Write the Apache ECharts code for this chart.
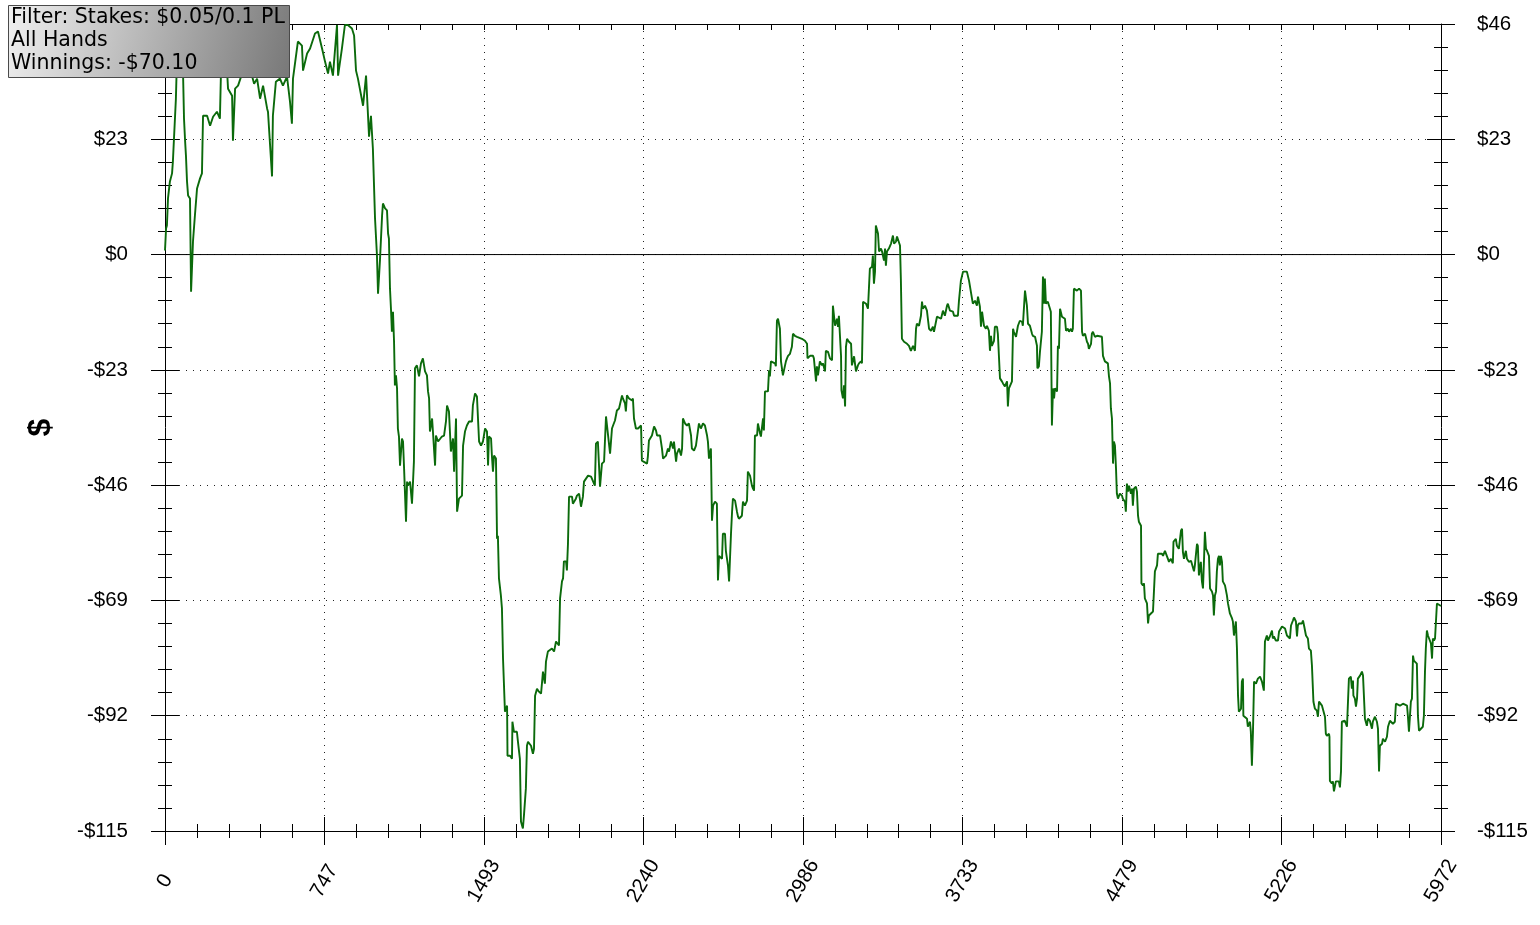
<!DOCTYPE html>
<html>
<head>
<meta charset="utf-8">
<script src="https://cdn.jsdelivr.net/npm/echarts@6/dist/echarts.min.js"></script>
<style>
html,body{margin:0;padding:0;background:#fff;}
#chart{width:1540px;height:925px;}
</style>
</head>
<body>
<div id="chart"></div>
<script>
// Hands played (x) and cumulative winnings in $ (y)
const hands = [0,5,9,14,23,33,37,42,51,56,66,75,84,89,94,98,103,108,117,122,131,140,150,164,173,178,197,211,225,243,257,262,276,290,295,314,318,328,342,356,374,398,417,431,445,459,478,482,501,505,519,538,552,571,585,594,599,622,641,646,665,679,702,716,735,749,763,772,786,805,810,828,842,856,875,885,894,903,927,941,955,964,973,983,992,997,1006,1016,1020,1030,1039,1044,1048,1053,1058,1062,1067,1072,1076,1081,1086,1090,1095,1100,1109,1114,1119,1128,1133,1137,1147,1156,1161,1165,1170,1179,1189,1198,1207,1217,1226,1231,1236,1240,1250,1254,1264,1268,1278,1296,1306,1315,1320,1329,1338,1348,1353,1362,1367,1376,1385,1390,1395,1404,1413,1423,1437,1441,1451,1460,1470,1479,1488,1498,1507,1512,1516,1526,1530,1535,1540,1549,1554,1558,1563,1572,1577,1582,1587,1591,1601,1603,1615,1624,1626,1633,1647,1652,1661,1666,1675,1680,1689,1694,1699,1713,1722,1727,1732,1741,1750,1760,1769,1778,1783,1792,1811,1821,1830,1844,1849,1858,1863,1867,1877,1881,1886,1891,1905,1909,1923,1928,1938,1947,1956,1961,1970,1980,1994,2003,2012,2017,2026,2036,2045,2055,2064,2073,2083,2092,2097,2106,2115,2125,2139,2143,2153,2157,2162,2172,2186,2190,2195,2204,2214,2228,2232,2237,2256,2260,2265,2279,2289,2298,2303,2317,2326,2331,2345,2354,2359,2368,2378,2382,2392,2396,2406,2415,2420,2424,2434,2443,2452,2462,2466,2476,2485,2494,2499,2508,2518,2527,2537,2541,2546,2555,2560,2565,2574,2583,2588,2593,2607,2611,2621,2625,2630,2635,2640,2649,2654,2658,2668,2677,2682,2686,2700,2705,2714,2724,2728,2738,2747,2752,2757,2761,2771,2775,2785,2789,2799,2803,2808,2817,2822,2827,2831,2836,2845,2855,2859,2864,2869,2878,2883,2892,2897,2906,2911,2916,2925,2934,2939,2948,2958,2967,2981,2995,3005,3007,3019,3033,3037,3047,3051,3056,3065,3075,3079,3089,3093,3103,3112,3122,3126,3131,3136,3145,3150,3154,3159,3164,3166,3173,3178,3183,3187,3192,3201,3211,3215,3220,3225,3234,3243,3248,3257,3262,3267,3281,3290,3299,3309,3313,3318,3323,3327,3337,3342,3351,3356,3365,3370,3374,3379,3388,3398,3407,3412,3421,3426,3435,3440,3444,3449,3459,3473,3482,3491,3501,3505,3510,3515,3519,3529,3538,3543,3547,3557,3566,3571,3576,3585,3594,3599,3608,3613,3622,3632,3641,3650,3660,3664,3674,3688,3693,3702,3711,3716,3725,3735,3744,3753,3763,3772,3777,3781,3791,3800,3805,3814,3819,3824,3833,3842,3847,3856,3861,3866,3870,3880,3884,3894,3898,3903,3908,3917,3922,3931,3941,3945,3950,3959,3964,3969,3973,3983,3987,3992,4001,4011,4015,4020,4025,4034,4039,4048,4058,4062,4072,4081,4083,4090,4095,4104,4109,4114,4118,4123,4132,4137,4146,4151,4156,4161,4165,4175,4179,4184,4189,4198,4203,4212,4217,4226,4231,4240,4245,4249,4254,4268,4278,4287,4292,4296,4306,4315,4320,4324,4334,4338,4343,4352,4362,4371,4385,4390,4395,4399,4413,4418,4423,4427,4432,4437,4441,4446,4451,4455,4460,4469,4479,4483,4493,4497,4502,4507,4512,4521,4526,4530,4535,4544,4549,4554,4558,4568,4570,4577,4582,4586,4596,4601,4605,4614,4624,4629,4633,4643,4647,4666,4671,4680,4689,4694,4699,4708,4717,4720,4731,4736,4745,4755,4760,4764,4769,4778,4783,4792,4802,4811,4816,4820,4830,4834,4839,4848,4853,4858,4863,4867,4872,4877,4886,4891,4900,4905,4909,4914,4919,4923,4928,4933,4937,4942,4947,4951,4961,4970,4975,4984,4994,4998,5003,5012,5017,5022,5026,5036,5040,5045,5047,5054,5064,5068,5078,5082,5087,5092,5097,5106,5115,5125,5134,5139,5143,5148,5157,5162,5171,5181,5185,5190,5199,5209,5214,5228,5242,5251,5256,5265,5270,5279,5284,5293,5298,5302,5307,5321,5326,5331,5340,5349,5354,5363,5368,5373,5375,5382,5391,5396,5401,5410,5415,5424,5429,5433,5438,5448,5450,5452,5461,5466,5471,5480,5485,5494,5499,5504,5508,5513,5522,5532,5536,5541,5550,5555,5560,5562,5569,5574,5579,5583,5593,5602,5607,5616,5625,5630,5639,5649,5653,5663,5672,5677,5682,5686,5696,5700,5710,5719,5724,5733,5742,5747,5756,5761,5770,5780,5794,5803,5813,5817,5822,5831,5836,5841,5845,5859,5864,5869,5878,5887,5892,5897,5901,5906,5911,5925,5930,5934,5939,5944,5953,5972];
const winnings = [0.8,5.2,5.8,11.2,14.6,16.2,18.6,23.1,31.1,39.1,43.1,41.1,37.1,27.1,22.7,19.8,14.6,11.8,11.2,-7.4,2.6,7.8,13.2,15.2,16.2,27.7,27.7,25.7,27.5,28.5,27.1,36.5,40.1,37.1,33.1,31.7,22.7,33.1,33.7,35.5,38.1,37.1,34.1,35.1,31.1,33.7,29.1,28.5,15.6,27.7,34.5,35.1,33.7,35.5,30.5,26.1,35.1,42.5,41.7,36.7,40.1,41.1,44.1,44.5,41.1,38.5,36.1,38.5,35.7,45.8,35.7,41.1,45.8,45.8,45.1,43.7,36.7,35.1,29.7,35.7,23.5,27.7,21.1,7.2,-0.2,-7.8,-1.2,7.8,10.2,9.2,8.8,4.2,3.2,-6.8,-11.2,-15.4,-11.4,-17.4,-26.1,-24.1,-26.7,-34.7,-36.3,-42.1,-36.7,-37.3,-42.7,-53.3,-45.3,-46.1,-45.3,-49.7,-45.1,-41.3,-22.7,-22.1,-24.3,-21.7,-20.7,-23.3,-24.1,-27.3,-28.7,-35.3,-32.7,-35.3,-42.1,-36.1,-37.3,-36.3,-36.1,-33.3,-30.1,-31.3,-39.3,-36.7,-43.3,-32.7,-51.3,-48.7,-48.7,-48.1,-38.1,-35.3,-34.1,-33.3,-33.3,-30.1,-27.7,-28.3,-37.3,-38.1,-37.3,-34.7,-35.3,-42.1,-36.3,-36.7,-40.1,-43.3,-40.1,-40.7,-56.7,-56.1,-64.6,-68.0,-70.6,-80.6,-80.6,-91.2,-90.0,-100.0,-100.0,-100.6,-93.2,-95.2,-95.2,-97.2,-100.6,-113.1,-114.5,-111.9,-106.5,-98.0,-97.2,-98.0,-99.6,-98.6,-88.0,-86.6,-87.2,-87.6,-83.2,-85.6,-81.2,-79.2,-78.6,-79.2,-77.2,-78.0,-68.6,-65.2,-64.6,-61.2,-61.2,-63.0,-57.7,-48.3,-48.3,-49.7,-48.7,-48.1,-47.7,-50.3,-48.3,-45.3,-45.1,-44.1,-44.3,-44.1,-46.1,-37.7,-37.3,-46.3,-41.7,-41.3,-32.3,-32.3,-39.7,-34.7,-34.1,-33.1,-31.1,-30.7,-28.1,-28.7,-29.7,-31.3,-28.1,-28.7,-29.1,-28.7,-32.7,-34.7,-34.7,-34.1,-41.1,-41.3,-41.7,-40.3,-37.1,-36.1,-34.3,-35.1,-36.1,-36.1,-38.7,-40.7,-40.1,-38.7,-39.3,-37.3,-38.7,-37.3,-41.3,-39.7,-38.7,-40.1,-38.7,-32.7,-33.7,-34.1,-33.7,-36.1,-38.7,-39.1,-38.1,-38.1,-33.7,-34.7,-33.7,-34.1,-36.1,-37.3,-40.7,-38.7,-53.1,-50.1,-49.3,-49.7,-65.0,-60.1,-60.7,-55.7,-55.7,-59.1,-59.3,-62.1,-65.2,-55.7,-51.3,-48.7,-49.1,-51.3,-52.3,-52.7,-52.1,-49.3,-50.1,-49.1,-43.3,-44.1,-46.1,-46.7,-47.1,-36.1,-36.1,-33.7,-35.7,-36.3,-32.7,-35.1,-27.3,-27.1,-27.3,-23.1,-24.3,-21.3,-21.3,-21.7,-22.3,-13.2,-12.8,-14.8,-21.3,-24.1,-23.1,-21.3,-20.7,-20.2,-19.8,-18.4,-15.8,-16.2,-16.4,-16.4,-16.8,-17.2,-17.8,-20.7,-20.2,-20.2,-20.7,-25.3,-22.3,-24.1,-21.3,-22.1,-21.7,-23.3,-19.2,-19.4,-20.7,-21.1,-10.2,-10.4,-14.2,-12.8,-14.4,-12.2,-12.4,-20.2,-27.1,-28.7,-26.1,-30.3,-18.4,-16.8,-17.4,-17.8,-22.1,-22.3,-20.3,-23.3,-22.1,-21.7,-21.3,-21.7,-9.4,-9.8,-10.8,-2.8,-2.4,-0.2,-5.8,-3.4,5.8,4.2,0.6,1.2,0.6,-1.2,1.2,-2.2,0.6,1.2,2.2,3.8,2.2,2.6,3.6,3.8,1.8,-4.8,-16.8,-17.4,-17.8,-18.2,-19.2,-18.2,-18.4,-19.2,-14.8,-13.8,-14.2,-12.2,-9.4,-10.8,-10.2,-11.2,-11.4,-14.8,-15.2,-14.4,-15.4,-15.2,-12.4,-12.2,-12.8,-11.2,-12.2,-10.2,-9.8,-11.2,-11.4,-12.2,-12.4,-12.2,-9.2,-5.2,-3.4,-3.2,-3.4,-5.2,-5.2,-8.8,-9.8,-9.2,-10.2,-8.4,-10.4,-14.4,-11.4,-14.2,-14.8,-14.2,-15.2,-19.2,-16.2,-18.2,-17.2,-14.4,-14.4,-15.8,-15.8,-24.7,-25.3,-25.7,-26.3,-25.3,-30.3,-26.7,-26.7,-25.3,-14.8,-15.4,-16.4,-16.2,-14.2,-13.2,-13.4,-14.2,-14.4,-7.2,-10.2,-13.8,-14.2,-15.8,-16.2,-16.4,-18.2,-22.7,-22.3,-19.4,-15.4,-4.4,-9.8,-4.8,-9.8,-9.4,-9.2,-11.4,-34.1,-26.7,-28.7,-26.7,-27.3,-18.2,-18.8,-10.8,-12.4,-12.4,-12.8,-15.2,-14.8,-15.4,-14.8,-15.4,-14.8,-6.8,-7.2,-6.8,-7.2,-15.4,-16.2,-15.8,-17.4,-17.8,-18.8,-17.8,-15.8,-15.4,-16.4,-16.2,-16.4,-16.4,-20.2,-20.3,-21.3,-21.7,-24.3,-25.7,-30.7,-32.7,-41.7,-37.3,-38.1,-42.7,-47.7,-48.7,-47.7,-48.1,-48.7,-49.3,-51.3,-45.7,-47.3,-46.1,-47.7,-46.7,-50.1,-46.7,-46.3,-47.3,-52.1,-53.3,-54.1,-65.6,-66.0,-65.6,-68.6,-69.6,-73.6,-72.0,-72.0,-71.2,-71.0,-63.2,-62.0,-59.7,-59.7,-60.1,-59.1,-59.3,-60.7,-61.3,-60.7,-61.6,-57.3,-56.7,-58.1,-58.7,-55.1,-54.7,-59.3,-60.7,-59.1,-60.7,-61.3,-61.1,-61.3,-63.2,-62.0,-57.7,-58.1,-64.0,-61.3,-65.2,-66.6,-60.7,-55.3,-58.7,-59.1,-60.1,-66.6,-67.2,-68.0,-72.0,-68.0,-67.2,-63.2,-60.7,-60.1,-62.0,-60.1,-61.3,-65.2,-66.0,-68.0,-69.6,-71.6,-72.6,-73.2,-76.0,-73.2,-78.6,-88.0,-91.2,-90.6,-85.2,-84.6,-92.0,-92.2,-92.6,-94.2,-93.2,-95.2,-102.0,-95.2,-85.2,-85.6,-84.6,-84.2,-85.2,-86.2,-87.0,-77.2,-76.0,-77.0,-76.2,-75.0,-76.6,-76.2,-77.0,-77.0,-75.2,-74.2,-74.6,-76.0,-76.2,-76.6,-74.0,-73.0,-72.4,-73.2,-76.2,-74.0,-73.6,-73.6,-73.0,-74.0,-76.0,-76.6,-78.6,-79.0,-82.0,-82.2,-89.2,-90.6,-91.0,-92.2,-89.2,-89.2,-90.0,-90.0,-92.2,-95.6,-96.0,-95.6,-96.2,-105.0,-105.5,-105.1,-107.1,-105.1,-105.1,-105.1,-106.3,-103.1,-93.2,-93.0,-93.0,-94.2,-94.2,-84.6,-84.2,-86.6,-85.0,-88.0,-88.6,-90.2,-88.6,-84.6,-84.0,-83.2,-84.0,-92.6,-94.0,-92.6,-93.0,-94.6,-93.2,-92.2,-93.2,-94.6,-103.1,-98.0,-97.6,-96.6,-97.2,-96.2,-94.2,-93.0,-93.2,-93.6,-93.2,-89.6,-89.6,-90.0,-89.6,-89.6,-90.0,-92.0,-95.2,-89.2,-88.6,-80.0,-81.0,-81.6,-92.0,-95.0,-95.2,-94.2,-92.0,-83.2,-78.6,-75.0,-76.0,-77.6,-80.6,-76.6,-77.0,-76.6,-69.6,-70.1];

const xMin = 0, xMax = 5972, xStep = 746.5;
const yMin = -115, yMax = 46, yStep = 23;
const xTickLabels = ['0','747','1493','2240','2986','3733','4479','5226','5972'];
const infoLines = ['Filter: Stakes: $0.05/0.1 PL', 'All Hands', 'Winnings: -$70.10'];

const chart = echarts.init(document.getElementById('chart'), null, {renderer: 'canvas'});
const labelFont = 'Liberation Sans, Arial, sans-serif';
const dotted = {color: '#222', width: 1, type: [1, 6]};
const black = {color: '#000', width: 1};

function yFmt(v) { return v < 0 ? '-$' + (-v) : '$' + v; }
function xFmt(v) { const i = Math.round(v / xStep); return xTickLabels[i] !== undefined ? xTickLabels[i] : String(Math.round(v)); }

const xBase = {type: 'value', min: xMin, max: xMax, interval: xStep};
const yBase = {type: 'value', min: yMin, max: yMax, interval: yStep};

const option = {
  animation: false,
  backgroundColor: '#fff',
  grid: {left: 165, right: 99, top: 24, bottom: 94, containLabel: false},
  xAxis: [
    Object.assign({}, xBase, {
      position: 'bottom',
      axisLine: {show: true, onZero: false, lineStyle: black},
      axisTick: {show: true, inside: false, length: 14, lineStyle: black},
      minorTick: {show: true, splitNumber: 5, length: 7, lineStyle: black},
      axisLabel: {show: true, rotate: 60, align: 'center', verticalAlign: 'middle', margin: 50,
        fontSize: 20.5, fontFamily: labelFont, color: '#000', formatter: xFmt},
      splitLine: {show: true, lineStyle: dotted},
      minorSplitLine: {show: false}
    }),
    Object.assign({}, xBase, {
      position: 'bottom',
      axisLine: {show: false, onZero: false},
      axisTick: {show: true, inside: true, length: 14, lineStyle: black},
      minorTick: {show: true, splitNumber: 5, length: 7, lineStyle: black},
      axisLabel: {show: false},
      splitLine: {show: false}
    }),
    Object.assign({}, xBase, {
      position: 'top',
      axisLine: {show: true, onZero: false, lineStyle: black},
      axisTick: {show: true, inside: true, length: 6, lineStyle: black},
      minorTick: {show: true, splitNumber: 5, length: 6, lineStyle: black},
      axisLabel: {show: false},
      splitLine: {show: false}
    })
  ],
  yAxis: [
    Object.assign({}, yBase, {
      position: 'left',
      name: '$', nameLocation: 'middle', nameGap: 108, nameRotate: 90,
      nameTextStyle: {fontSize: 32, fontWeight: 'bold', fontFamily: labelFont, color: '#000'},
      axisLine: {show: true, onZero: false, lineStyle: black},
      axisTick: {show: true, inside: false, length: 14, lineStyle: black},
      minorTick: {show: true, splitNumber: 5, length: 7, lineStyle: black},
      axisLabel: {show: true, margin: 37, fontSize: 20.5, fontFamily: labelFont, color: '#000', formatter: yFmt},
      splitLine: {show: true, lineStyle: dotted}
    }),
    Object.assign({}, yBase, {
      position: 'left',
      axisLine: {show: false, onZero: false},
      axisTick: {show: true, inside: true, length: 14, lineStyle: black},
      minorTick: {show: true, splitNumber: 5, length: 7, lineStyle: black},
      axisLabel: {show: false},
      splitLine: {show: false}
    }),
    Object.assign({}, yBase, {
      position: 'right',
      axisLine: {show: true, onZero: false, lineStyle: black},
      axisTick: {show: true, inside: false, length: 14, lineStyle: black},
      minorTick: {show: true, splitNumber: 5, length: 7, lineStyle: black},
      axisLabel: {show: true, margin: 36, fontSize: 20.5, fontFamily: labelFont, color: '#000', formatter: yFmt},
      splitLine: {show: false}
    }),
    Object.assign({}, yBase, {
      position: 'right',
      axisLine: {show: false, onZero: false},
      axisTick: {show: true, inside: true, length: 14, lineStyle: black},
      minorTick: {show: true, splitNumber: 5, length: 7, lineStyle: black},
      axisLabel: {show: false},
      splitLine: {show: false}
    })
  ],
  series: [
    {
      type: 'line', xAxisIndex: 0, yAxisIndex: 0, z: 1, silent: true,
      symbol: 'none', data: [[xMin, 0], [xMax, 0]],
      lineStyle: {color: '#000', width: 1}
    },
    {
      type: 'line', xAxisIndex: 0, yAxisIndex: 0, z: 2,
      symbol: 'none', showSymbol: false, sampling: null,
      data: hands.map((h, i) => [h, winnings[i]]),
      lineStyle: {color: '#0b6a0b', width: 1.9}
    }
  ],
  graphic: [
    {
      type: 'group', left: 8, top: 5, z: 100, zlevel: 5,
      children: [
        {
          type: 'rect', zlevel: 5, z: 100, shape: {x: 0.5, y: 0.5, width: 281, height: 72},
          style: {
            fill: {type: 'linear', x: 0, y: 0, x2: 1, y2: 1,
              colorStops: [{offset: 0, color: '#f0f0f0'}, {offset: 1, color: '#787878'}]},
            stroke: '#4a4a4a', lineWidth: 1
          }
        },
        {
          type: 'text', zlevel: 5, z: 101, x: 3, y: 1,
          style: {text: infoLines.join('\n'), font: '20.5px "DejaVu Sans"', fill: '#000', lineHeight: 23}
        }
      ]
    }
  ]
};
chart.setOption(option);
</script>
</body>
</html>
